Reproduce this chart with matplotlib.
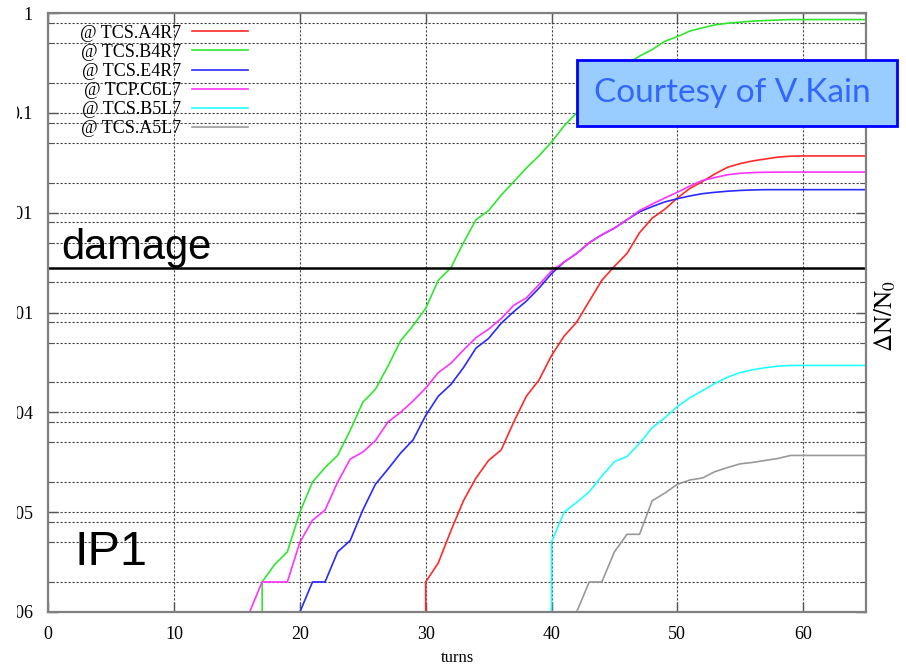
import matplotlib
matplotlib.use("Agg")
import matplotlib.pyplot as plt
import numpy as np
from matplotlib.patches import Rectangle
from matplotlib.transforms import Bbox, TransformedBbox

# loss curves, one value per turn (dN/N0)
FLOOR = 1e-7  # zero losses, drawn at the bottom

labels = ['@ TCS.A4R7', '@ TCS.B4R7', '@ TCS.E4R7', '@ TCP.C6L7', '@ TCS.B5L7', '@ TCS.A5L7']
colors = ['#ff2a2a', '#2ee82e', '#2a2aff', '#ff33ff', '#22ffff', '#999999']

start_a4r7 = 30
vals_a4r7 = [2e-6, 3.1e-6, 6.5e-6, 1.3e-5, 2.2e-5, 3.3e-5, 4.2e-5, 8e-5, 1.45e-4, 2.1e-4,
             3.7e-4, 5.8e-4, 8e-4, 1.3e-3, 2.1e-3, 2.9e-3, 3.9e-3, 6.3e-3, 8.8e-3, 1.08e-2,
             1.4e-2, 1.75e-2, 2.05e-2, 2.45e-2, 2.85e-2, 3.1e-2, 3.3e-2, 3.45e-2, 3.6e-2, 3.68e-2,
             3.7e-2, 3.7e-2, 3.7e-2, 3.7e-2, 3.7e-2, 3.7e-2]

start_b4r7 = 17
vals_b4r7 = [2e-6, 3e-6, 4e-6, 1e-5, 2e-5, 2.8e-5, 3.7e-5, 6.6e-5, 1.26e-4, 1.7e-4,
             2.9e-4, 5.2e-4, 7.4e-4, 1.1e-3, 2.1e-3, 2.8e-3, 5e-3, 8.5e-3, 1.05e-2, 1.5e-2,
             2.04e-2, 2.8e-2, 3.7e-2, 5.1e-2, 7.4e-2, 0.1, 0.14, 0.19, 0.25, 0.31,
             0.37, 0.43, 0.52, 0.58, 0.66, 0.71, 0.76, 0.79, 0.81, 0.83,
             0.84, 0.85, 0.86, 0.86, 0.86, 0.86, 0.86, 0.86, 0.86]

start_e4r7 = 20
vals_e4r7 = [1e-6, 2e-6, 2e-6, 4e-6, 5.2e-6, 1.05e-5, 1.9e-5, 2.7e-5, 3.9e-5, 5.3e-5,
             9.3e-5, 1.45e-4, 1.9e-4, 2.8e-4, 4.4e-4, 5.5e-4, 7.8e-4, 1.02e-3, 1.3e-3, 1.75e-3,
             2.45e-3, 3.2e-3, 3.9e-3, 5e-3, 6e-3, 7e-3, 8.5e-3, 1.02e-2, 1.15e-2, 1.28e-2,
             1.38e-2, 1.47e-2, 1.55e-2, 1.6e-2, 1.64e-2, 1.67e-2, 1.69e-2, 1.7e-2, 1.7e-2, 1.7e-2,
             1.7e-2, 1.7e-2, 1.7e-2, 1.7e-2, 1.7e-2, 1.7e-2]

start_c6l7 = 16
vals_c6l7 = [1e-6, 2e-6, 2e-6, 2e-6, 5e-6, 8.3e-6, 1.05e-5, 2e-5, 3.4e-5, 4e-5,
             5.2e-5, 8e-5, 1e-4, 1.3e-4, 1.75e-4, 2.5e-4, 3.1e-4, 4.2e-4, 5.6e-4, 6.8e-4,
             8.7e-4, 1.18e-3, 1.4e-3, 1.9e-3, 2.6e-3, 3.2e-3, 3.9e-3, 5e-3, 6e-3, 7e-3,
             8.5e-3, 1.05e-2, 1.22e-2, 1.4e-2, 1.6e-2, 1.85e-2, 2.1e-2, 2.25e-2, 2.4e-2, 2.48e-2,
             2.52e-2, 2.54e-2, 2.55e-2, 2.55e-2, 2.55e-2, 2.55e-2, 2.55e-2, 2.55e-2, 2.55e-2, 2.55e-2]

start_b5l7 = 40
vals_b5l7 = [5e-6, 1e-5, 1.25e-5, 1.6e-5, 2.3e-5, 3.2e-5, 3.6e-5, 4.9e-5, 7e-5, 8.8e-5,
             1.14e-4, 1.4e-4, 1.65e-4, 1.95e-4, 2.25e-4, 2.5e-4, 2.67e-4, 2.8e-4, 2.9e-4, 2.95e-4,
             2.95e-4, 2.95e-4, 2.95e-4, 2.95e-4, 2.95e-4, 2.95e-4]

start_a5l7 = 42
vals_a5l7 = [1e-6, 2e-6, 2e-6, 4e-6, 6e-6, 6e-6, 1.3e-5, 1.55e-5, 1.9e-5, 2.1e-5,
             2.2e-5, 2.55e-5, 2.8e-5, 3.05e-5, 3.15e-5, 3.3e-5, 3.45e-5, 3.7e-5, 3.7e-5, 3.7e-5,
             3.7e-5, 3.7e-5, 3.7e-5, 3.7e-5]

# collimators whose losses jump up from zero in a single turn
vertical_start = [True, True, False, False, True, False]

damage_level = 2.8e-3

xticks = [0, 10, 20, 30, 40, 50, 60]
yticks = [1e-6, 1e-5, 1e-4, 1e-3, 1e-2, 1e-1, 1]
yticklabels = ['1e-06', '1e-05', '1e-04', '0.001', '0.01', '0.1', '1']

starts = [start_a4r7, start_b4r7, start_e4r7, start_c6l7, start_b5l7, start_a5l7]
series = [vals_a4r7, vals_b4r7, vals_e4r7, vals_c6l7, vals_b5l7, vals_a5l7]

W, H = 906, 666
fig = plt.figure(figsize=(W / 100, H / 100), dpi=100)
ax = fig.add_axes([48.3 / W, 1 - 612 / H, (866 - 48.3) / W, 599 / H])

serif = 'Liberation Serif'

for lab, col, s, v, vert in zip(labels, colors, starts, series, vertical_start):
    t = np.arange(s, s + len(v))
    y = np.array(v)
    if vert:
        t = np.r_[s, t]
        y = np.r_[FLOOR, y]
    ax.plot(t, y, color=col, lw=1.2, label=lab)

ax.axhline(damage_level, color='black', lw=1.8)

ax.set_yscale('log')
ax.set_xlim(0, 65)
ax.set_ylim(1e-6, 1)

ax.set_xticks(xticks)
ax.set_xticklabels([str(x) for x in xticks], fontfamily=serif, fontsize=13)
ax.set_yticks(yticks)
ax.set_yticklabels(yticklabels, fontfamily=serif, fontsize=13)
minor = [m * 10.0 ** e for e in range(-6, 0) for m in (2, 5, 8)]
ax.set_yticks(minor, minor=True)
ax.yaxis.set_minor_formatter(plt.NullFormatter())

ax.tick_params(which='both', direction='in', top=True, right=True, color='#555555')
ax.tick_params(which='major', length=7, width=1)
ax.tick_params(which='minor', length=4, width=0.8)
ax.tick_params(axis='x', pad=10)
ax.tick_params(axis='y', pad=11)

ax.grid(True, which='both', color='#444444', lw=0.8, ls=(0, (2, 1.6)))
for sp in ax.spines.values():
    sp.set_color('#808080')
    sp.set_linewidth(1.6)

# left edge of the picture was cut off in the original slide
clip = TransformedBbox(Bbox([[17 / W, 0], [1, 1]]), fig.transFigure)
for tl in ax.get_yticklabels():
    tl.set_clip_box(clip)
    tl.set_clip_on(True)

ax.set_xlabel('turns', fontfamily=serif, fontsize=12)
ax.xaxis.set_label_coords(0.5, -0.063)
fig.text(885 / W, 1 - 316 / H, r'$\Delta\mathrm{N/N}_0$', rotation=90, ha='center', va='center',
         fontsize=18, math_fontfamily='stix')

leg = ax.legend(loc='upper right', bbox_to_anchor=(248 / W, 1 - 24.5 / H),
                bbox_transform=fig.transFigure, frameon=False, markerfirst=False,
                prop={'family': serif, 'size': 13}, handlelength=3.1,
                handletextpad=0.6, labelspacing=0.12, borderpad=0, borderaxespad=0)

ax.text(1.0, 3.4e-3, 'damage', fontfamily='Liberation Sans', fontsize=30, va='baseline')
ax.text(2.1, 2.95e-6, 'IP1', fontfamily='Liberation Sans', fontsize=35, va='baseline')

# courtesy box on top of the plot
fig.patches.append(Rectangle((577 / W, 1 - 126 / H), 320 / W, 66 / H, transform=fig.transFigure,
                             facecolor='#99ccff', edgecolor='#0000ff', lw=2, zorder=5))
fig.text(732 / W, 1 - 93 / H, 'Courtesy of V.Kain', ha='center', va='center', color='#3366ff',
         fontfamily='Lato', fontsize=24, zorder=6)

fig.savefig('out.png', dpi=100)
